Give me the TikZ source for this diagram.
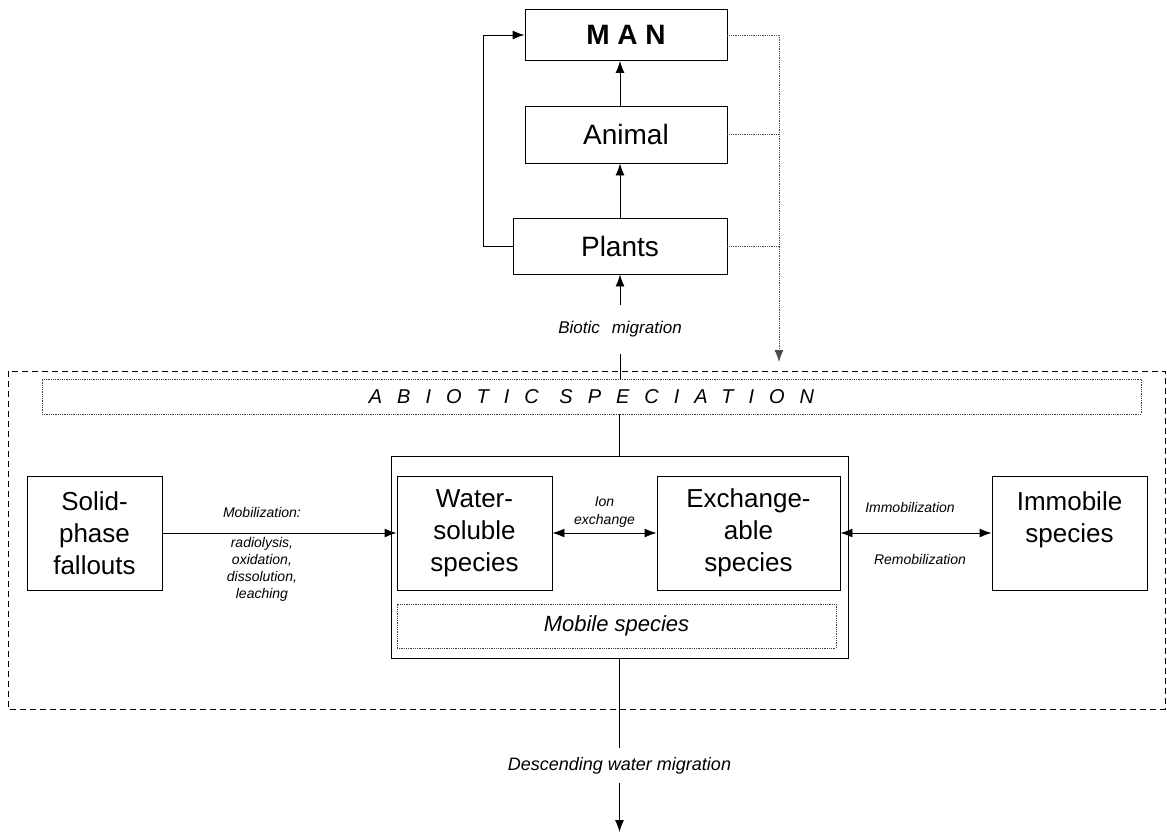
\documentclass[tikz,border=0pt]{standalone}
\usepackage{fontspec}
\setmainfont{Liberation Sans}
\usetikzlibrary{arrows.meta,positioning,calc}

\begin{document}
\begin{tikzpicture}[x=1pt,y=-1pt,
  box/.style={draw, line width=0.9pt, inner sep=0pt, align=center, font=\fontsize{26}{32}\selectfont},
  topbox/.style={box, font=\fontsize{28}{32}\selectfont},
  dotbox/.style={draw, black!75, text=black, densely dotted, line width=0.8pt, inner sep=0pt},
  note/.style={font=\itshape\fontsize{14}{17}\selectfont, align=center, inner sep=0pt},
  flow/.style={line width=0.9pt, -{Latex[length=12pt,width=9pt]}},
  both/.style={line width=0.9pt, {Latex[length=12pt,width=9pt]}-{Latex[length=12pt,width=9pt]}},
  feed/.style={black!70, densely dotted, line width=0.8pt}]
	\useasboundingbox (0,0) rectangle (1167,833);
	% food chain
	\node[topbox, minimum width=202pt, minimum height=51pt] (man) at (626,35) {\textbf{M A N}};
	\node[topbox, minimum width=202pt, minimum height=57pt] (animal) at (626,134.5) {Animal};
	\node[topbox, minimum width=214pt, minimum height=56pt] (plants) at (620,246) {Plants};
	\node[note, font=\itshape\fontsize{17}{20}\selectfont, minimum height=49pt] (biotic) at (620,329.5) {Biotic\hspace{12pt}migration};
	\draw[flow] (plants.north) -- (plants.north |- animal.south);
	\draw[flow] (animal.north -| plants.north) -- (man.south -| plants.north);
	\draw[flow] (plants.west) -- ++(-29,0) |- (man.west);
	\draw[flow] (biotic.north) -- (plants.south);
	\coordinate (drop) at (779,362);
	\draw[feed] (man.east) -- (man.east -| drop);
	\draw[feed] (animal.east) -- (animal.east -| drop);
	\draw[feed] (plants.east) -- (plants.east -| drop);
	\draw[feed, -{Latex[length=12pt,width=9pt]}] (man.east -| drop) -- (drop);
	% abiotic part
	\draw[dash pattern=on 6pt off 4pt, line width=0.8pt] (8,371) rectangle (1165,709);
	\node[dotbox, minimum width=1099pt, minimum height=35pt, font=\itshape\fontsize{20}{24}\selectfont\addfontfeature{LetterSpace=75}] (abiotic) at (591.5,396.5) {ABIOTIC SPECIATION};
	\node[draw, line width=0.9pt, minimum width=457pt, minimum height=202pt] (pool) at (619.5,557) {};
	\node[box, minimum width=155pt, minimum height=114pt] (water) at (474.5,533) {Water-\\soluble\\species};
	\node[box, minimum width=183pt, minimum height=114pt] (exch) at (748.5,533) {Exchange-\\able\\species};
	\node[dotbox, minimum width=439pt, minimum height=44pt, font=\itshape\fontsize{22}{26}\selectfont] (mobile) at (616.5,626) {Mobile species};
	\node[box, minimum width=155pt, minimum height=114pt] (immobile) at (1069.5,533) {Immobile\\species\\~};
	\node[box, minimum width=135pt, minimum height=114pt] (solid) at (94.5,533) {Solid-\\phase\\fallouts};
	\draw (biotic.south) -- (biotic.south |- abiotic.north);
	\draw (pool.north) -- (pool.north |- abiotic.south);
	\draw[flow] (solid) -- (water)
		node[note, pos=0.425, above=15pt] {Mobilization:}
		node[note, pos=0.425, below=4pt] {radiolysis,\\oxidation,\\dissolution,\\leaching};
	\draw[both] (water) -- (exch) node[note, midway, above=5pt, font=\itshape\fontsize{14}{18}\selectfont] {Ion\\exchange};
	\draw[both] (exch) -- (immobile)
		node[note, midway, above=20pt, xshift=-6pt] {Immobilization}
		node[note, midway, below=21pt, xshift=4pt] {Remobilization};
	% downward
	\node[note, font=\itshape\fontsize{18}{22}\selectfont, minimum height=35pt] (desc) at (619.5,765.5) {Descending water migration};
	\coordinate (sink) at (619.5,832);
	\draw[line width=0.9pt] (pool.south) -- (desc.north);
	\draw[flow] (desc.south) -- (sink);
\end{tikzpicture}
\end{document}
